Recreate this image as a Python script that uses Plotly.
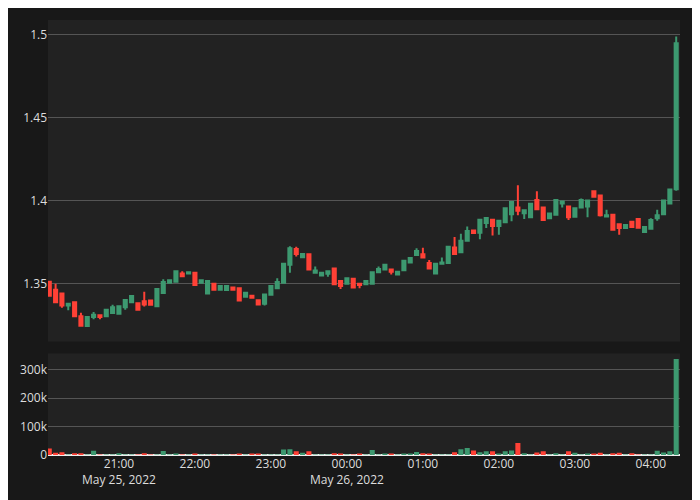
import pandas as pd
import plotly.graph_objects as go
from plotly.subplots import make_subplots

times = pd.date_range("2022-05-25 20:05", periods=100, freq="5min")

opens = [1.3512,1.3463,1.3441,1.3368,1.3388,1.3303,1.3244,1.3299,1.3309,1.3303,
         1.3323,1.3319,1.3358,1.3388,1.3382,1.3394,1.3398,1.3364,1.3443,1.3506,
         1.3512,1.3561,1.3561,1.3565,1.3506,1.3441,1.3500,1.3463,1.3461,1.3476,
         1.3472,1.3421,1.3427,1.3400,1.3378,1.3433,1.3472,1.3506,1.3614,1.3709,
         1.3659,1.3677,1.3565,1.3549,1.3559,1.3591,1.3516,1.3500,1.3530,1.3500,
         1.3496,1.3500,1.3569,1.3585,1.3585,1.3555,1.3581,1.3628,1.3673,1.3677,
         1.3624,1.3561,1.3620,1.3624,1.3718,1.3689,1.3758,1.3821,1.3807,1.3866,
         1.3886,1.3847,1.3870,1.3919,1.3959,1.3925,1.3900,1.4004,1.3959,1.3894,
         1.3915,1.3984,1.3965,1.3904,1.3959,1.3965,1.4057,1.4031,1.3905,1.3915,
         1.3858,1.3835,1.3874,1.3890,1.3811,1.3831,1.3894,1.3919,1.3984,1.4070]
highs = [1.3516,1.3500,1.3441,1.3378,1.3388,1.3325,1.3299,1.3329,1.3309,1.3342,
         1.3372,1.3364,1.3402,1.3425,1.3382,1.3451,1.3398,1.3467,1.3526,1.3524,
         1.3575,1.3575,1.3569,1.3565,1.3524,1.3516,1.3502,1.3486,1.3486,1.3478,
         1.3472,1.3445,1.3433,1.3400,1.3435,1.3486,1.3532,1.3624,1.3726,1.3722,
         1.3679,1.3681,1.3604,1.3565,1.3575,1.3591,1.3516,1.3532,1.3530,1.3500,
         1.3516,1.3569,1.3604,1.3614,1.3585,1.3571,1.3638,1.3654,1.3713,1.3717,
         1.3642,1.3620,1.3657,1.3722,1.3782,1.3801,1.3845,1.3821,1.3886,1.3896,
         1.3886,1.3880,1.3955,1.3992,1.4093,1.3943,1.3982,1.4057,1.3959,1.3923,
         1.4004,1.3996,1.3965,1.3955,1.4014,1.4002,1.4059,1.4031,1.3945,1.3915,
         1.3858,1.3854,1.3874,1.3890,1.3841,1.3894,1.3945,1.4002,1.4067,1.4990]
lows = [1.3427,1.3385,1.3354,1.3339,1.3303,1.3246,1.3244,1.3285,1.3285,1.3303,
        1.3323,1.3315,1.3342,1.3388,1.3340,1.3362,1.3372,1.3364,1.3443,1.3506,
        1.3512,1.3539,1.3561,1.3490,1.3506,1.3441,1.3463,1.3463,1.3461,1.3463,
        1.3398,1.3421,1.3415,1.3374,1.3368,1.3433,1.3472,1.3506,1.3565,1.3663,
        1.3659,1.3585,1.3565,1.3549,1.3541,1.3496,1.3467,1.3500,1.3476,1.3472,
        1.3496,1.3500,1.3569,1.3585,1.3555,1.3555,1.3581,1.3628,1.3673,1.3657,
        1.3591,1.3557,1.3620,1.3624,1.3679,1.3689,1.3758,1.3805,1.3768,1.3835,
        1.3791,1.3795,1.3870,1.3876,1.3913,1.3890,1.3900,1.3949,1.3884,1.3894,
        1.3915,1.3959,1.3884,1.3904,1.3959,1.3900,1.4024,1.3905,1.3905,1.3825,
        1.3795,1.3835,1.3841,1.3837,1.3811,1.3831,1.3880,1.3919,1.3984,1.4060]
closes = [1.3427,1.3388,1.3368,1.3378,1.3303,1.3246,1.3299,1.3313,1.3299,1.3342,
          1.3358,1.3364,1.3402,1.3425,1.3342,1.3374,1.3372,1.3467,1.3510,1.3520,
          1.3575,1.3545,1.3569,1.3492,1.3520,1.3516,1.3463,1.3486,1.3486,1.3463,
          1.3398,1.3445,1.3415,1.3374,1.3435,1.3486,1.3510,1.3620,1.3713,1.3679,
          1.3679,1.3585,1.3579,1.3565,1.3575,1.3496,1.3486,1.3532,1.3476,1.3492,
          1.3516,1.3569,1.3589,1.3614,1.3571,1.3571,1.3638,1.3654,1.3697,1.3657,
          1.3591,1.3620,1.3628,1.3722,1.3679,1.3758,1.3817,1.3805,1.3886,1.3896,
          1.3847,1.3880,1.3955,1.3992,1.3939,1.3943,1.3982,1.3949,1.3884,1.3923,
          1.4004,1.3996,1.3900,1.3955,1.4004,1.4002,1.4024,1.3913,1.3913,1.3825,
          1.3835,1.3854,1.3841,1.3837,1.3841,1.3884,1.3913,1.4002,1.4067,1.4950]
volumes_k = [23,8,10,2,6,6,1,15,2,1,
             1,6,2,2,2,6,2,1,14,1,
             5,1,1,4,1,2,1,1,1,1,
             5,1,4,5,1,1,2,19,20,13,
             8,13,1,1,1,6,4,1,1,5,
             1,18,2,5,4,1,4,5,11,6,
             5,1,2,2,10,20,25,16,10,13,
             13,5,13,16,42,6,2,9,13,1,
             6,1,13,8,1,4,4,8,2,6,
             8,1,6,1,2,2,15,9,13,338]

up = "#3D9970"
down = "#FF4136"
vol_colors = [up if c >= o else down for o, c in zip(opens, closes)]

fig = make_subplots(rows=2, cols=1, shared_xaxes=True, vertical_spacing=0.027,
                    row_heights=[0.76, 0.24])
fig.add_trace(go.Candlestick(x=times, open=opens, high=highs, low=lows, close=closes,
                             increasing_line_color=up, decreasing_line_color=down,
                             increasing_fillcolor=up, decreasing_fillcolor=down,
                             showlegend=False), row=1, col=1)
fig.add_trace(go.Bar(x=times, y=[v * 1000 for v in volumes_k], marker_color=vol_colors,
                     marker_line_width=0, showlegend=False), row=2, col=1)

# page has an 8px body margin, so margins are shifted to line up with the reference
fig.update_layout(
    width=700, height=500,
    margin=dict(l=36, r=28, t=12, b=53),
    paper_bgcolor="#181818", plot_bgcolor="#222222",
    font=dict(color="#dddddd", size=12),
    bargap=0.2,
    xaxis_rangeslider_visible=False,
)
xr = ["2022-05-25 20:04", "2022-05-26 04:23"]
fig.update_xaxes(range=xr, showgrid=False, zeroline=False)
fig.update_xaxes(rangeslider_visible=False, row=1, col=1)
fig.update_yaxes(range=[1.315, 1.509], gridcolor="#555555", dtick=0.05, zeroline=False, row=1, col=1)
fig.update_yaxes(range=[0, 358000], gridcolor="#555555", dtick=100000,
                 zeroline=True, zerolinecolor="#eeeeee", zerolinewidth=2, row=2, col=1)

fig.write_html("out.html")
